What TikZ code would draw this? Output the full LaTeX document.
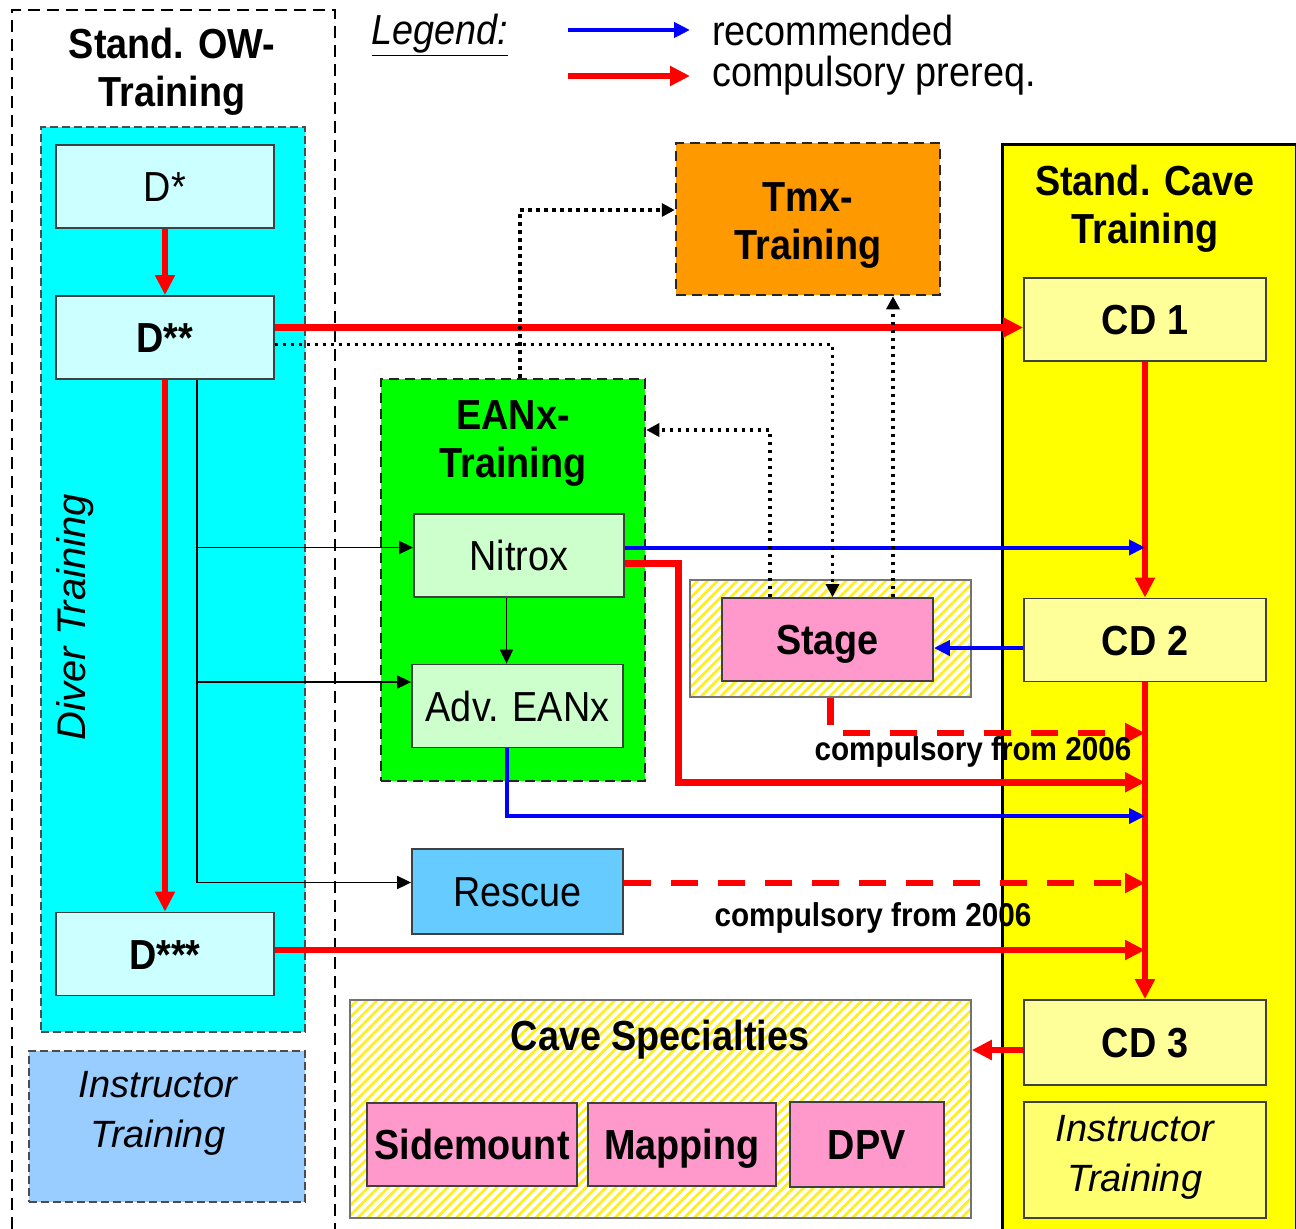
\documentclass[tikz,border=0pt]{standalone}
\usepackage{fontspec}
\setmainfont[FakeStretch=0.9]{Liberation Sans}
\newfontfamily\instrfont{Liberation Sans}
\usetikzlibrary{arrows.meta,patterns.meta,positioning}

\definecolor{owcyan}{HTML}{00FFFF}
\definecolor{dcyan}{HTML}{CCFFFF}
\definecolor{instrblue}{HTML}{99CCFF}
\definecolor{tmxorange}{HTML}{FF9900}
\definecolor{caveyellow}{HTML}{FFFF00}
\definecolor{cdyellow}{HTML}{FFFF99}
\definecolor{instryellow}{HTML}{FFFF70}
\definecolor{eanxgreen}{HTML}{00FF00}
\definecolor{nitroxgreen}{HTML}{CCFFCC}
\definecolor{rescueblue}{HTML}{66CCFF}
\definecolor{specpink}{HTML}{FF99CC}
\definecolor{hatchyellow}{HTML}{FFEE22}
\definecolor{prered}{HTML}{FF0000}
\definecolor{recblue}{HTML}{0000FF}

\begin{document}
\begin{tikzpicture}[x=1pt,y=-1pt,
    txt/.style={inner sep=0pt,font=\fontsize{42}{48}\selectfont},
    btxt/.style={inner sep=0pt,font=\fontsize{42}{48}\selectfont\bfseries},
    itxt/.style={inner sep=0pt,font=\instrfont\fontsize{38}{50}\selectfont\itshape},
    note/.style={inner sep=0pt,font=\fontsize{33}{40}\selectfont\bfseries},
    course/.style={draw=black!75,line width=1.8pt,inner sep=0pt,minimum width=211,minimum height=83,
      text height=30pt,text depth=0pt,txt},
    group/.style={draw=black!85,line width=2.5pt,dash pattern=on 10pt off 6pt},
    owgroup/.style={draw=black!70,line width=1.5pt,dash pattern=on 8pt off 4pt},
    hatch/.style={draw=black!55,line width=1.5pt,preaction={fill=white},
      pattern={Lines[angle=45,distance=7pt,line width=2.8pt]},pattern color=hatchyellow},
    prereq/.style={draw=prered,line width=6.5pt,-{Triangle[width=19pt,length=20pt]}},
    later/.style={prereq,dash pattern=on 27pt off 20pt},
    recom/.style={draw=recblue,line width=4pt,-{Triangle[width=15pt,length=16pt]}},
    feed/.style={draw=black,line width=1.8pt,-{Triangle[width=13pt,length=14pt]}},
    dots/.style={draw=black,line width=3.5pt,dash pattern=on 3.5pt off 4.5pt,-{Triangle[width=13pt,length=13pt]}}]

\useasboundingbox (0,0) rectangle (1296,1229);

% groups
\draw[line width=2pt,dash pattern=on 12pt off 7pt] (12,1229) -- (12,10) -- (335,10) -- (335,1229);
\node[btxt,align=center] (owtitle) at (172,72) {Stand. OW-\\Training};
\node[owgroup,fill=owcyan,minimum width=264,minimum height=905] (diver) at (173,579.5) {};
\node[inner sep=0pt,font=\instrfont\fontsize{40}{48}\selectfont\itshape,rotate=90] (divertitle) at (75,617) {Diver Training};
\node[owgroup,fill=instrblue,minimum width=276,minimum height=151] (owinstr) at (167,1126.5) {};
\node[itxt,align=center] (owinstrtext) at (158,1113) {Instructor\\Training};

\node[draw=black,line width=2.5pt,fill=caveyellow,minimum width=294,minimum height=1100,anchor=north west] (cave) at (1001,143) {};
\node[btxt,align=center] (cavetitle) at (1145,209) {Stand. Cave\\Training};

\node[group,fill=tmxorange,minimum width=264,minimum height=152] (tmx) at (808,219) {};
\node[btxt,align=center] (tmxtitle) at (808,225) {Tmx-\\Training};
\node[group,fill=eanxgreen,minimum width=264,minimum height=402] (eanx) at (513,580) {};
\node[btxt,align=center] (eanxtitle) at (513,443) {EANx-\\Training};
\node[hatch,minimum width=281,minimum height=117] (stagebg) at (830.5,638.5) {};
\node[hatch,minimum width=621,minimum height=218] (spec) at (660.5,1109) {};
\node[btxt] (spectitle) at (660,1040) {Cave Specialties};

% legend
\node[txt] (legend) at (440,35) {\underline{\itshape Legend:}};
\coordinate (recA) at (568,30);
\coordinate (recB) at (690,30);
\coordinate (preA) at (568,76);
\coordinate (preB) at (690,76);
\draw[recom] (recA) -- (recB);
\draw[prereq] (preA) -- (preB);
\node[txt,right=22pt of recB] (rectext) {recommended};
\node[txt,right=22pt of preB] (pretext) {compulsory prereq.};

% courses
\node[course,fill=dcyan,minimum width=218] (dstar) at (165,186.5) {D*};
\node[course,fill=dcyan,minimum width=218,btxt] (dtwo) at (165,337.5) {D**};
\node[course,fill=dcyan,minimum width=218,btxt] (dthree) at (165,954) {D***};
\node[course,fill=cdyellow,minimum width=242,btxt] (cdone) at (1145,319.5) {CD 1};
\node[course,fill=cdyellow,minimum width=242,btxt] (cdtwo) at (1145,640) {CD 2};
\node[course,fill=cdyellow,minimum width=242,minimum height=85,btxt] (cdthree) at (1145,1042.5) {CD 3};
\node[course,fill=instryellow,minimum width=242,minimum height=116] (cdinstr) at (1145,1160) {};
\node[itxt,align=center] (cdinstrtext) at (1135,1157) {Instructor\\Training};
\node[course,fill=nitroxgreen,minimum width=210] (nitrox) at (519,555.5) {Nitrox};
\node[course,fill=nitroxgreen] (adveanx) at (517.5,706) {Adv. EANx};
\node[course,fill=rescueblue,minimum height=85] (rescue) at (517.5,891.5) {Rescue};
\node[course,fill=specpink,btxt] (stage) at (827.5,639.5) {Stage};
\node[course,fill=specpink,minimum width=210,btxt] (sidemount) at (472,1144.5) {Sidemount};
\node[course,fill=specpink,minimum width=188,btxt,right=9pt of sidemount] (mapping) {Mapping};
\node[course,fill=specpink,minimum width=154,minimum height=85,btxt,right=12pt of mapping] (dpv) {DPV};

% diver line
\draw[prereq] (dstar) -- (dtwo);
\draw[prereq] (dtwo) -- (dthree);
\coordinate (dtwoout) at ([yshift=10pt]dtwo.east);
\draw[prereq] (dtwoout) -- (dtwoout -| cdone.west);
\coordinate (dthreeout) at ([yshift=4pt]dthree.east);
\draw[prereq] (dthreeout) -- (dthreeout -| cdtwo.south);

% cave line
\draw[prereq] (cdone) -- (cdtwo);
\draw[prereq] (cdtwo) -- (cdthree);
\coordinate (cdthreeout) at ([yshift=-7.5pt]cdthree.west);
\draw[prereq] (cdthreeout) -- (cdthreeout -| spec.east);
\coordinate (cdtwoout) at ([yshift=-8pt]cdtwo.west);
\draw[recom] (cdtwoout) -- (cdtwoout -| stage.east);

% branches to the side courses
\coordinate (trunk) at ([xshift=32pt]dtwo.south);
\coordinate (nitroxin) at ([yshift=8pt]nitrox.west);
\coordinate (advin) at ([yshift=24pt]adveanx.west);
\coordinate (rescuein) at ([yshift=9pt]rescue.west);
\draw[feed] (trunk) |- (nitroxin);
\draw[feed] (trunk) |- (advin);
\draw[feed] (trunk) |- (rescuein);
\coordinate (nadv) at ([xshift=-12.5pt]nitrox.south);
\draw[feed] (nadv) -- (nadv |- adveanx.north);

% eanx into cave
\coordinate (nitroxrec) at ([yshift=8pt]nitrox.east);
\draw[recom] (nitroxrec) -- (nitroxrec -| cdtwo.south);
\coordinate (nitroxpre) at ([yshift=-8pt]nitrox.east);
\coordinate (nitroxbend) at ([xshift=32pt]eanx.south east);
\draw[prereq] (nitroxpre) -| (nitroxbend) -- (nitroxbend -| cdtwo.south);
\coordinate (advout) at ([xshift=-11pt]adveanx.south);
\coordinate (advlow) at (0,816);
\draw[recom] (advout) |- (advlow -| cdtwo.south);
\coordinate (stagelow) at (0,733);
\draw[later] (stagebg.south) |- (stagelow -| cdtwo.south);
\coordinate (rescueout) at ([yshift=8.5pt]rescue.east);
\draw[later] (rescueout) -- (rescueout -| cdtwo.south);

% dotted links
\coordinate (dtwodot) at ([yshift=-7pt]dtwo.east);
\coordinate (stagein) at ([xshift=5pt]stage.north);
\draw[dots] (dtwodot) -| (stagein);
\coordinate (eanxup) at ([xshift=7pt]eanx.north);
\coordinate (tmxin) at ([yshift=9pt]tmx.west);
\draw[dots] (eanxup) |- (tmxin);
\coordinate (stageleft) at ([xshift=-57.5pt]stage.north);
\coordinate (eanxin) at ([yshift=150pt]eanx.east);
\draw[dots] (stageleft) |- (eanxin);
\coordinate (stageright) at ([xshift=65.5pt]stage.north);
\draw[dots] (stageright) -- (stageright |- tmx.south);

\node[note] (stagenote) at (973,752) {compulsory from 2006};
\node[note] (rescuenote) at (873,918) {compulsory from 2006};
\end{tikzpicture}
\end{document}
